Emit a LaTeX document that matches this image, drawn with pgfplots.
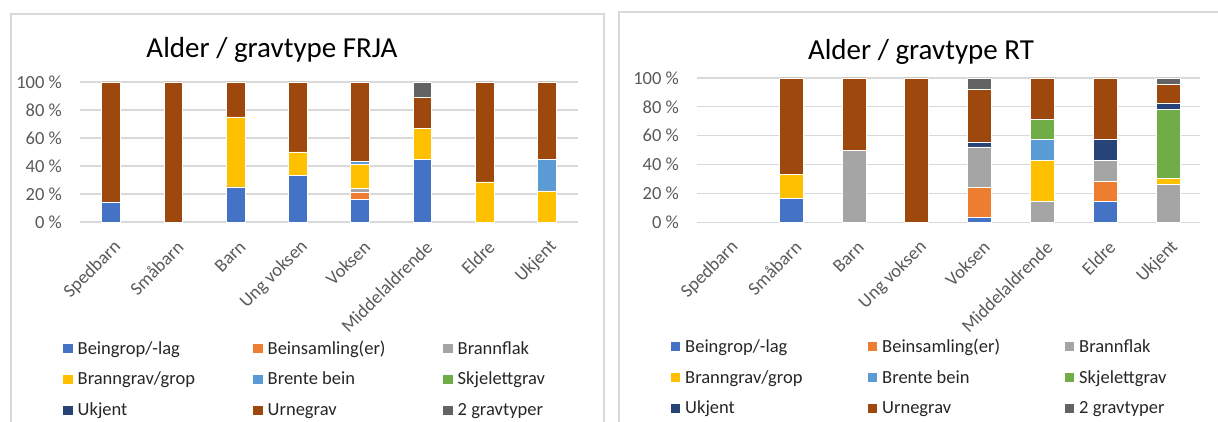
\documentclass[border=0pt]{standalone}
\usepackage{fontspec}
\setmainfont{Carlito}
\usepackage{pgfplots}
\usepackage{pgfplotstable}
\pgfplotsset{compat=1.18}

\definecolor{cA}{HTML}{4472C4}
\definecolor{cB}{HTML}{ED7D31}
\definecolor{cC}{HTML}{A5A5A5}
\definecolor{cD}{HTML}{FFC000}
\definecolor{cE}{HTML}{5B9BD5}
\definecolor{cF}{HTML}{70AD47}
\definecolor{cG}{HTML}{264478}
\definecolor{cH}{HTML}{9E480E}
\definecolor{cI}{HTML}{636363}
\definecolor{gridc}{HTML}{D9D9D9}
\definecolor{framec}{HTML}{D9D9D9}
\definecolor{tickc}{HTML}{595959}
\definecolor{legc}{HTML}{262626}

\newcommand{\ticksize}{\fontsize{18.5bp}{22bp}\selectfont}
\newcommand{\titlesize}{\fontsize{29bp}{34bp}\selectfont}

% columns: a Beingrop/-lag, b Beinsamling(er), c Brannflak, d Branngrav/grop,
% e Brente bein, f Skjelettgrav, g Ukjent, h Urnegrav, i 2 gravtyper
\pgfplotstableread{
x a    b    c    d    e    f    g   h    i
0 14.3 0    0    0    0    0    0   85.7 0
1 0    0    0    0    0    0    0   100  0
2 25   0    0    50   0    0    0   25   0
3 33.3 0    0    16.7 0    0    0   50   0
4 16.4 5.0  2.6  17.3 2.2  0    0   56.5 0
5 44.4 0    0    22.2 0    0    0   22.2 11.2
6 0    0    0    28.6 0    0    0   71.4 0
7 0    0    0    22.2 22.2 0    0   55.6 0
}\frja

\pgfplotstableread{
x a    b    c    d    e    f    g   h    i
0 0    0    0    0    0    0    0   0    0
1 16.7 0    0    16.7 0    0    0   66.6 0
2 0    0    50   0    0    0    0   50   0
3 0    0    0    0    0    0    0   100  0
4 3.5  20.5 28.2 0    0    0    3.5 36.2 8.1
5 0    0    14.3 28.6 14.3 14.3 0   28.5 0
6 14.3 14.3 14.3 0    0    0    14.3 42.8 0
7 0    0    26.1 4.3  0    47.8 4.3 13.2 4.3
}\rt

\newcommand{\la}[1]{\makebox[175.6bp][l]{#1}}
\newcommand{\lb}[1]{\makebox[182.6bp][l]{#1}}

\pgfplotsset{
  sqlegend/.style={legend image code/.code={\path[##1,draw=none] (0bp,-3.75bp) rectangle (9.5bp,5.75bp);}},
  mychart/.style={
    scale only axis, ybar stacked,
    ymin=0, ymax=100, xmin=-0.5, xmax=7.5, enlargelimits=false,
    axis line style={draw=none}, tick style={draw=none}, major tick length=0pt,
    ymajorgrids, grid style={color=gridc, line width=1.2bp},
    ytick={0,20,40,60,80,100},
    yticklabels={0 \%, 20 \%, 40 \%, 60 \%, 80 \%, 100 \%},
    xtick={0,1,2,3,4,5,6,7},
    xticklabels={Spedbarn, Småbarn, Barn, Ung voksen, Voksen, Middelaldrende, Eldre, Ukjent},
    yticklabel style={font=\ticksize, text=tickc, inner sep=0pt, xshift=-18bp},
    xticklabel style={font=\ticksize, text=tickc, inner sep=0pt, xshift=7bp, yshift=-22bp, rotate=45, anchor=east},
    legend columns=3,
    every axis legend/.style={anchor=north west, draw=none, fill=none,
      inner sep=0pt, outer sep=0pt, row sep=13.9bp, column sep=0pt,
      font=\ticksize, text=legc,
      cells={anchor=west},
      nodes={text height=13bp, text depth=4bp, inner sep=0pt},
      /tikz/every odd column/.style={column sep=4.9bp}},
    every axis plot post/.append style={sqlegend, draw=white, line width=0.75bp},
    clip=false,
  }
}

\begin{document}
\begin{tikzpicture}
\useasboundingbox (0,0) rectangle (1218bp,422bp);
\draw[framec, line width=1.3bp] (11bp,-5bp) -- (11bp,408bp) -- (604bp,408bp) -- (604bp,-5bp);
\draw[framec, line width=1.3bp] (619bp,-5bp) -- (619bp,410bp) -- (1225bp,410bp);

\begin{axis}[mychart,
  at={(80bp,200bp)}, anchor=south west, width=498bp, height=140bp,
  bar width=18.7bp,
  every axis title/.style={at={(0.3855,1)}, anchor=base, yshift=24.7bp, font=\titlesize, inner sep=0pt},
  title={Alder / gravtype FRJA},
  legend style={at={(-0.0335,-0.85)}},
  legend entries={\la{Beingrop/-lag}, \la{Beinsamling(er)}, \la{Brannflak}, \la{Branngrav/grop}, \la{Brente bein}, \la{Skjelettgrav}, \la{Ukjent}, \la{Urnegrav}, \la{2 gravtyper}},
]
\addplot[fill=cA] table[x=x,y=a]{\frja};
\addplot[fill=cB] table[x=x,y=b]{\frja};
\addplot[fill=cC] table[x=x,y=c]{\frja};
\addplot[fill=cD] table[x=x,y=d]{\frja};
\addplot[fill=cE] table[x=x,y=e]{\frja};
\addplot[fill=cF] table[x=x,y=f]{\frja};
\addplot[fill=cG] table[x=x,y=g]{\frja};
\addplot[fill=cH] table[x=x,y=h]{\frja};
\addplot[fill=cI] table[x=x,y=i]{\frja};
\draw[gridc, line width=1.2bp] (axis cs:-0.5,0) -- (axis cs:7.5,0);
\end{axis}

\begin{axis}[mychart,
  at={(697bp,199.7bp)}, anchor=south west, width=502.5bp, height=144.3bp,
  bar width=24bp,
  every axis title/.style={at={(0.4458,1)}, anchor=base, yshift=18.7bp, font=\titlesize, inner sep=0pt},
  title={Alder / gravtype RT},
  legend style={at={(-0.0521,-0.810)}},
  legend entries={\lb{Beingrop/-lag}, \lb{Beinsamling(er)}, \lb{Brannflak}, \lb{Branngrav/grop}, \lb{Brente bein}, \lb{Skjelettgrav}, \lb{Ukjent}, \lb{Urnegrav}, \lb{2 gravtyper}},
]
\addplot[fill=cA] table[x=x,y=a]{\rt};
\addplot[fill=cB] table[x=x,y=b]{\rt};
\addplot[fill=cC] table[x=x,y=c]{\rt};
\addplot[fill=cD] table[x=x,y=d]{\rt};
\addplot[fill=cE] table[x=x,y=e]{\rt};
\addplot[fill=cF] table[x=x,y=f]{\rt};
\addplot[fill=cG] table[x=x,y=g]{\rt};
\addplot[fill=cH] table[x=x,y=h]{\rt};
\addplot[fill=cI] table[x=x,y=i]{\rt};
\draw[gridc, line width=1.2bp] (axis cs:-0.5,0) -- (axis cs:7.5,0);
\end{axis}
\end{tikzpicture}
\end{document}
